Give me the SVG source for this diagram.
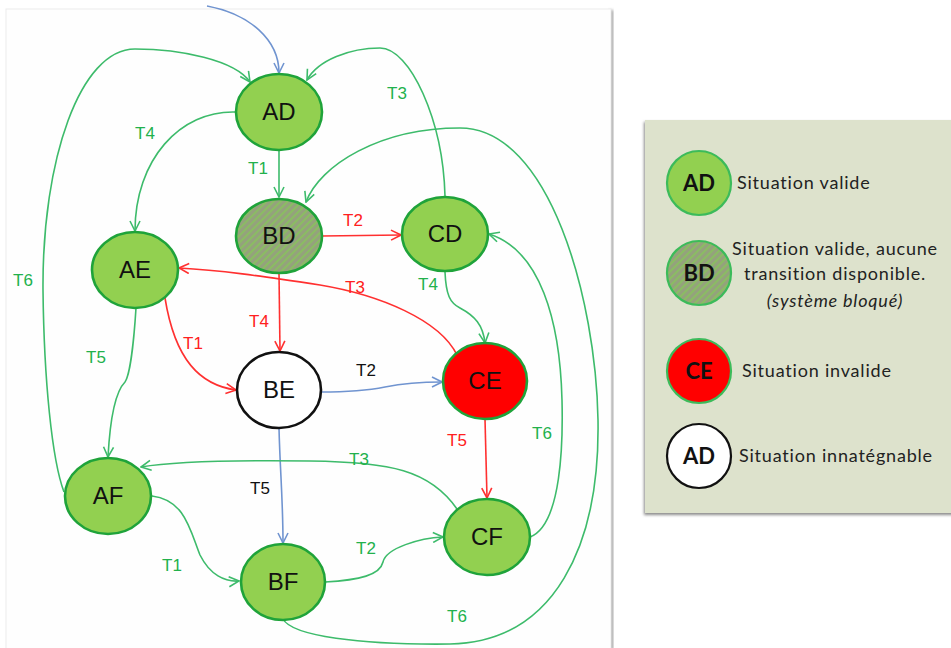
<svg xmlns="http://www.w3.org/2000/svg" width="951" height="648" viewBox="0 0 951 648">
<style>
.node{fill:#92d050;stroke:#1fa33a;stroke-width:2.6}
.nt{font-family:"Liberation Sans",Arial,sans-serif;font-size:24px;fill:#111;text-anchor:middle}
.e{fill:none;stroke-width:1.6}
.g{stroke:#3dbb6b}
.r{stroke:#ff3030}
.b{stroke:#7094d0}
.lb{font-family:"Liberation Sans",Arial,sans-serif;font-size:17px;text-anchor:middle}
.lg{fill:#22b14c}
.lr{fill:#ff2020}
.lk{fill:#111}
.leg{font-family:Lato,"Open Sans",sans-serif;font-size:18px;letter-spacing:0.8px;fill:#222}
.legc{font-family:Lato,"Open Sans",sans-serif;font-size:22px;font-weight:bold;fill:#111;text-anchor:middle}
</style>
<defs>
<pattern id="hatch" width="5" height="5" patternUnits="userSpaceOnUse" patternTransform="rotate(45)">
<rect width="5" height="5" fill="#94a27c"/>
<rect width="1.6" height="5" fill="#88c35c"/>
</pattern>
<marker id="ag" viewBox="0 0 12 12" refX="11" refY="6" markerWidth="12" markerHeight="12" markerUnits="userSpaceOnUse" orient="auto"><path d="M1,1 L11,6 L1,11" fill="none" stroke="#3dbb6b" stroke-width="1.6"/></marker>
<marker id="ar" viewBox="0 0 12 12" refX="11" refY="6" markerWidth="12" markerHeight="12" markerUnits="userSpaceOnUse" orient="auto"><path d="M1,1 L11,6 L1,11" fill="none" stroke="#ff3030" stroke-width="1.6"/></marker>
<marker id="ab" viewBox="0 0 12 12" refX="11" refY="6" markerWidth="12" markerHeight="12" markerUnits="userSpaceOnUse" orient="auto"><path d="M1,1 L11,6 L1,11" fill="none" stroke="#7094d0" stroke-width="1.6"/></marker>
<filter id="sh" x="-10%" y="-10%" width="120%" height="120%"><feGaussianBlur stdDeviation="1.5"/></filter>
</defs>
<rect width="951" height="648" fill="#ffffff"/>
<!-- main panel -->
<rect x="609" y="10" width="4" height="640" fill="#9a9a9a" filter="url(#sh)"/>
<rect x="6" y="9" width="605" height="642" fill="#fefefe" stroke="#ececec" stroke-width="1"/>
<!-- legend -->
<g id="legend">
<rect x="644" y="122" width="312" height="393" fill="#8a8a8a" filter="url(#sh)"/>
<rect x="645" y="120" width="310" height="393" fill="#dde2cc"/>
<circle cx="699" cy="183" r="32" fill="#92d050" stroke="#3cbb5a" stroke-width="2.2"/>
<text class="legc" x="699" y="191">AD</text>
<text class="leg" x="737" y="189">Situation valide</text>
<circle cx="699" cy="273" r="32" fill="url(#hatch)" stroke="#3cbb5a" stroke-width="2.2"/>
<text class="legc" x="699" y="281">BD</text>
<text class="leg" x="835" y="255" text-anchor="middle">Situation valide, aucune</text>
<text class="leg" x="835" y="280" text-anchor="middle">transition disponible.</text>
<text class="leg" x="835" y="307" text-anchor="middle" font-style="italic">(système bloqué)</text>
<circle cx="699" cy="371" r="32" fill="#ff0000" stroke="#3cbb5a" stroke-width="2.2"/>
<text class="legc" x="699" y="379">CE</text>
<text class="leg" x="742" y="377">Situation invalide</text>
<circle cx="699" cy="456" r="32" fill="#ffffff" stroke="#111" stroke-width="2.2"/>
<text class="legc" x="699" y="464">AD</text>
<text class="leg" x="739" y="462">Situation innatégnable</text>
</g>
<!-- connectors -->
<g id="connectors">
<path class="e b" marker-end="url(#ab)" d="M207 6 C250 14,279 40,279 73"/>
<path class="e g" marker-end="url(#ag)" d="M64 492 C52 460,44 380,43 290 C42 160,80 49,135 49 C180 49,235 60,250 82"/>
<path class="e g" marker-end="url(#ag)" d="M236 112 C180 110,135 160,135 231"/>
<path class="e g" marker-end="url(#ag)" d="M279 150 L279 197"/>
<path class="e g" marker-end="url(#ag)" d="M445 196 C443 120,410 48,380 48 C350 48,318 60,307 80"/>
<path class="e g" marker-end="url(#ag)" d="M283 619 C292 636,360 645,450 644 C555 642,600 545,598 420 C596 300,550 128,460 128 C380 128,320 165,306 202"/>
<path class="e g" marker-end="url(#ag)" d="M530 537 C562 525,563 440,562 400 C560 320,540 250,489 234"/>
<path class="e r" marker-end="url(#ar)" d="M322 236 L401 235"/>
<path class="e r" marker-end="url(#ar)" d="M457 355 C440 320,380 295,320 285 C260 276,220 270,179 268"/>
<path class="e r" marker-end="url(#ar)" d="M279 273 L280 351"/>
<path class="e r" marker-end="url(#ar)" d="M165 298 C175 360,200 385,236 390"/>
<path class="e g" marker-end="url(#ag)" d="M136 308 C134 340,130 375,125 382 C115 392,110 420,108 457"/>
<path class="e g" marker-end="url(#ag)" d="M445 272 C446 295,450 303,460 308 C475 316,483 325,485 343"/>
<path class="e b" marker-end="url(#ab)" d="M321 392 C350 392,370 390,385 387 C400 384,420 382,442 382"/>
<path class="e b" marker-end="url(#ab)" d="M279 428 C280 470,283 500,283 543"/>
<path class="e r" marker-end="url(#ar)" d="M485 419 L487 498"/>
<path class="e g" marker-end="url(#ag)" d="M457 509 C430 470,390 462,310 461 C230 460,170 462,141 467"/>
<path class="e g" marker-end="url(#ag)" d="M152 496 C185 500,190 530,200 555 C210 575,225 582,239 581"/>
<path class="e g" marker-end="url(#ag)" d="M325 582 C360 580,380 575,383 562 C386 548,420 538,443 537"/>
</g>
<g id="edge-labels">
<text class="lb lg" x="145" y="139">T4</text>
<text class="lb lg" x="258" y="174">T1</text>
<text class="lb lg" x="397" y="99">T3</text>
<text class="lb lg" x="23" y="286">T6</text>
<text class="lb lg" x="96" y="363">T5</text>
<text class="lb lg" x="428" y="290">T4</text>
<text class="lb lg" x="542" y="439">T6</text>
<text class="lb lg" x="359" y="465">T3</text>
<text class="lb lg" x="172" y="571">T1</text>
<text class="lb lg" x="366" y="554">T2</text>
<text class="lb lg" x="457" y="622">T6</text>
<text class="lb lr" x="353" y="226">T2</text>
<text class="lb lr" x="355" y="293">T3</text>
<text class="lb lr" x="259" y="327">T4</text>
<text class="lb lr" x="193" y="349">T1</text>
<text class="lb lr" x="457" y="446">T5</text>
<text class="lb lk" x="366" y="376">T2</text>
<text class="lb lk" x="260" y="494">T5</text>
</g>
<g id="AD"><ellipse class="node" cx="279" cy="112" rx="43" ry="38"/><text class="nt" x="279" y="120">AD</text></g>
<g id="BD"><ellipse class="node" cx="279" cy="236" rx="43" ry="37" style="fill:url(#hatch)"/><text class="nt" x="279" y="244">BD</text></g>
<g id="CD"><ellipse class="node" cx="445" cy="234" rx="43" ry="37"/><text class="nt" x="445" y="242">CD</text></g>
<g id="AE"><ellipse class="node" cx="135" cy="270" rx="43" ry="38"/><text class="nt" x="135" y="278">AE</text></g>
<g id="BE"><ellipse cx="279" cy="390" rx="42" ry="38" fill="#fff" stroke="#111" stroke-width="2.6"/><text class="nt" x="279" y="398">BE</text></g>
<g id="CE"><ellipse class="node" cx="485" cy="381" rx="42" ry="38" style="fill:#ff0000"/><text class="nt" x="485" y="389">CE</text></g>
<g id="AF"><ellipse class="node" cx="108" cy="496" rx="43" ry="38"/><text class="nt" x="108" y="504">AF</text></g>
<g id="BF"><ellipse class="node" cx="283" cy="582" rx="42" ry="38"/><text class="nt" x="283" y="590">BF</text></g>
<g id="CF"><ellipse class="node" cx="487" cy="537" rx="43" ry="38"/><text class="nt" x="487" y="545">CF</text></g>
</svg>
